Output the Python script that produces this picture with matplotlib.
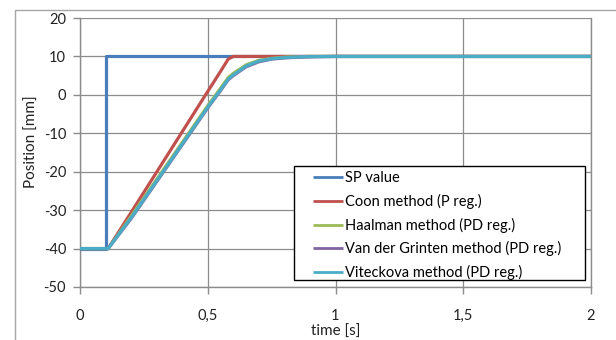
import matplotlib
matplotlib.use("Agg")
import matplotlib.pyplot as plt
from matplotlib.patches import Rectangle
from matplotlib.ticker import FuncFormatter

plt.rcParams['font.family'] = ['Lato', 'DejaVu Sans']
plt.rcParams['axes.unicode_minus'] = False

# ---- data ----
t_sp = [0.0, 0.1, 0.1, 2.0]
sp_value = [-40, -40, 10, 10]

t = [0.0, 0.11, 0.2, 0.3, 0.4, 0.5, 0.55, 0.58, 0.6, 0.65, 0.7, 0.75, 0.8, 0.85, 0.9, 1.0, 2.0]
coon = [-40, -40, -30.6, -20.1, -9.6, 0.9, 6.1, 9.3, 10, 10, 10, 10, 10, 10, 10, 10, 10]
haalman = [-40, -40, -31.6, -22.0, -12.4, -2.8, 1.7, 4.5, 5.6, 7.8, 9.0, 9.5, 9.8, 9.9, 10, 10, 10]
grinten = [-40, -40, -32.2, -22.6, -13.0, -3.4, 1.1, 3.9, 5.0, 7.3, 8.6, 9.3, 9.6, 9.8, 9.9, 10, 10]
viteckova = [-40, -40, -32.0, -22.4, -12.8, -3.2, 1.3, 4.1, 5.2, 7.5, 8.8, 9.4, 9.7, 9.85, 9.95, 10, 10]

labels = ["SP value", "Coon method (P reg.)", "Haalman method (PD reg.)",
          "Van der Grinten method (PD reg.)", "Viteckova method (PD reg.)"]
colors = ["#4A7EBB", "#C0504D", "#9BBB59", "#8064A2", "#4BACC6"]

xticks = [0, 0.5, 1, 1.5, 2]
yticks = [-50, -40, -30, -20, -10, 0, 10, 20]

fig = plt.figure(figsize=(6.16, 3.4), dpi=100)
fig.patches.append(Rectangle((15/616, -0.05), 1.0, 1 - 10/340 + 0.05,
                             transform=fig.transFigure, fill=False,
                             edgecolor="#A6A6A6", linewidth=1.0))
ax = fig.add_axes([80/616, 1 - 287/340, 511/616, 269/340])

lw = 2.3
ax.plot(t_sp, sp_value, color=colors[0], lw=lw, label=labels[0], zorder=3)
ax.plot(t, coon, color=colors[1], lw=lw, label=labels[1], zorder=4)
ax.plot(t, haalman, color=colors[2], lw=lw, label=labels[2], zorder=5)
ax.plot(t, grinten, color=colors[3], lw=lw, label=labels[3], zorder=6)
ax.plot(t, viteckova, color=colors[4], lw=lw, label=labels[4], zorder=7)

ax.set_xlim(0, 2)
ax.set_ylim(-50, 20)
ax.set_xticks(xticks)
ax.set_yticks(yticks)
ax.xaxis.set_major_formatter(FuncFormatter(lambda v, p: ('%g' % v).replace('.', ',')))
ax.grid(True, color="#8C8C8C", linewidth=0.9)
ax.set_axisbelow(True)
ax.spines['top'].set_visible(False)
for s in ['left', 'bottom', 'right']:
    ax.spines[s].set_color("#8C8C8C")
    ax.spines[s].set_linewidth(1.0)
ax.tick_params(axis='both', colors="#8C8C8C", length=5, width=1.0,
               labelcolor="#222222", labelsize=10.5)
ax.tick_params(axis='x', pad=11)
ax.tick_params(axis='y', pad=5)

ax.set_xlabel("time [s]", fontsize=11, color="#222222", labelpad=1)
ax.set_ylabel("Position [mm]", fontsize=11, color="#222222")
ax.yaxis.set_label_coords(-41/511, 0.54)

# legend box (drawn as in the original, fixed size)
box = Rectangle((294/616, 1 - 280/340), 291/616, 114/340, transform=fig.transFigure,
                facecolor="white", edgecolor="black", linewidth=1.0, zorder=9)
fig.patches.append(box)
leg = fig.legend(*ax.get_legend_handles_labels(), loc='upper left',
                 bbox_to_anchor=(313/616, 1 - 171/340), fontsize=10.5, frameon=False,
                 handlelength=2.06, handletextpad=0.13, labelspacing=0.6,
                 borderpad=0, borderaxespad=0)
leg.set_zorder(10)
for h in leg.get_lines():
    h.set_linewidth(2.0)
    h.set_solid_capstyle('butt')

fig.savefig("out.png", dpi=100)
